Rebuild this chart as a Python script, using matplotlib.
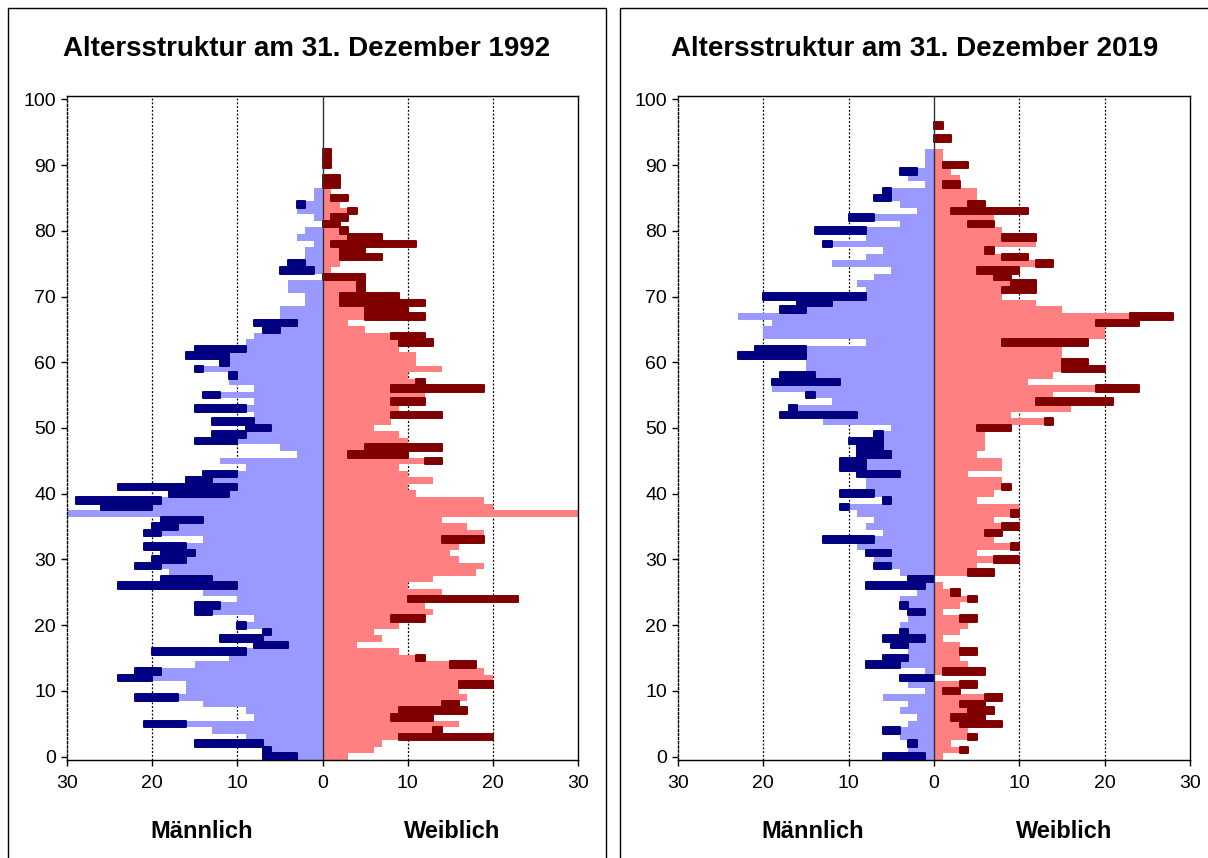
import numpy as np
import matplotlib
matplotlib.use("Agg")
import matplotlib.pyplot as plt
from matplotlib.patches import Rectangle

plt.rcParams['font.family'] = ['Liberation Sans', 'DejaVu Sans']

# ---------------- data (persons per year of age) ----------------
male_1992 = [7, 7, 15, 9, 13, 21, 8, 9, 14, 22,
             16, 16, 24, 22, 15, 11, 20, 8, 12, 7,
             10, 8, 15, 15, 10, 14, 24, 19, 18, 22,
             20, 19, 21, 14, 21, 20, 19, 30, 26, 29,
             18, 24, 16, 14, 9, 12, 3, 5, 15, 13,
             9, 13, 8, 15, 8, 14, 8, 11, 11, 15,
             12, 16, 15, 9, 8, 7, 8, 5, 5, 2,
             2, 4, 4, 0, 5, 4, 2, 2, 1, 3,
             2, 0, 1, 3, 3, 1, 1, 0, 0, 0,
             0, 0, 0]
female_1992 = [3, 6, 7, 20, 14, 16, 13, 17, 16, 17,
               16, 20, 20, 19, 18, 12, 9, 4, 7, 6,
               9, 12, 13, 12, 23, 14, 10, 13, 18, 19,
               16, 15, 16, 19, 19, 17, 14, 30, 20, 19,
               11, 10, 13, 10, 9, 14, 10, 14, 10, 9,
               6, 8, 14, 9, 12, 12, 19, 12, 10, 14,
               11, 11, 9, 13, 12, 5, 3, 12, 10, 12,
               9, 5, 5, 5, 1, 2, 7, 5, 11, 7,
               3, 2, 3, 4, 2, 3, 1, 2, 2, 0,
               1, 1, 1]
male_2019 = [6, 3, 3, 4, 6, 3, 2, 4, 3, 6,
             1, 3, 4, 1, 8, 6, 3, 5, 6, 4,
             4, 3, 3, 4, 4, 2, 8, 3, 4, 7,
             7, 8, 9, 13, 6, 8, 7, 9, 11, 6,
             11, 8, 8, 9, 11, 11, 9, 9, 10, 7,
             5, 13, 18, 17, 12, 15, 19, 19, 18, 15,
             15, 23, 21, 8, 20, 20, 19, 23, 18, 16,
             20, 8, 9, 7, 5, 12, 8, 6, 13, 8,
             14, 4, 10, 2, 4, 7, 6, 1, 3, 4,
             1, 1, 1, 0, 0, 0, 0]
female_2019 = [1, 4, 2, 5, 4, 8, 6, 7, 6, 8,
               3, 5, 0, 6, 4, 3, 5, 3, 1, 3,
               4, 5, 1, 3, 5, 3, 1, 0, 7, 5,
               10, 5, 10, 7, 8, 10, 7, 10, 10, 5,
               7, 9, 8, 4, 8, 8, 5, 6, 6, 6,
               9, 14, 9, 16, 21, 14, 24, 11, 14, 20,
               18, 15, 15, 18, 20, 20, 24, 28, 15, 12,
               8, 12, 12, 9, 10, 14, 11, 7, 12, 12,
               8, 7, 7, 11, 6, 5, 5, 3, 3, 2,
               4, 1, 1, 0, 2, 0, 1]

titles = ["Altersstruktur am 31. Dezember 1992", "Altersstruktur am 31. Dezember 2019"]
side_labels = ["Männlich", "Weiblich"]
x_ticks = [-30, -20, -10, 0, 10, 20, 30]
x_ticklabels = ["30", "20", "10", "0", "10", "20", "30"]
y_ticks = list(range(0, 101, 10))

LIGHT_M = "#9999FF"
LIGHT_F = "#FF8080"
DARK_M = "#000080"
DARK_F = "#800000"

W, H = 1208, 858
fig = plt.figure(figsize=(W / 100, H / 100), dpi=100)


def fx(px):
    return px / W


def fy(py):
    return 1 - py / H


def panel(ax, male, female):
    m = np.asarray(male, dtype=float)
    f = np.asarray(female, dtype=float)
    age = np.arange(len(m))
    lo = np.minimum(m, f)
    ax.barh(age, -m, height=1.0, color=LIGHT_M, linewidth=0, zorder=2)
    ax.barh(age, f, height=1.0, color=LIGHT_F, linewidth=0, zorder=2)
    mex = m > f
    fex = f > m
    ax.barh(age[mex], -(m - lo)[mex], left=-lo[mex], height=1.0, color=DARK_M,
            edgecolor=DARK_M, linewidth=1.4, joinstyle='round', zorder=3)
    ax.barh(age[fex], (f - lo)[fex], left=lo[fex], height=1.0, color=DARK_F,
            edgecolor=DARK_F, linewidth=1.4, joinstyle='round', zorder=3)
    ax.set_xlim(-30, 30)
    ax.set_ylim(-0.5, 100.5)
    ax.set_xticks(x_ticks)
    ax.set_xticklabels(x_ticklabels)
    ax.set_yticks(y_ticks)
    ax.tick_params(axis='both', direction='out', length=4, width=1, labelsize=14,
                   colors='black')
    ax.tick_params(axis='x', pad=7)
    ax.tick_params(axis='y', pad=4)
    for gx in (-20, -10, 10, 20):
        ax.axvline(gx, color='black', linestyle=(0, (1.5, 1.5)), linewidth=0.9, zorder=1)
    ax.axvline(0, color='#333333', linewidth=1.0, zorder=4)
    ax.spines['left'].set_linestyle((0, (1.5, 1.5)))
    for s in ax.spines.values():
        s.set_linewidth(1.0)
        s.set_color('black')


axes_px = [(67, 578), (678, 1190)]
panels_px = [(8, 606), (620, 1210)]
data = [(male_1992, female_1992), (male_2019, female_2019)]

for i in range(2):
    x0, x1 = axes_px[i]
    ax = fig.add_axes([fx(x0), fy(760), fx(x1 - x0), fy(96) - fy(760)])
    panel(ax, *data[i])
    p0, p1 = panels_px[i]
    fig.patches.append(Rectangle((fx(p0), fy(870)), fx(p1 - p0), fy(8) - fy(870),
                                 transform=fig.transFigure, fill=False,
                                 edgecolor='black', linewidth=1.0))
    cx = (p0 + p1) / 2
    fig.text(fx(cx), fy(49), titles[i], ha='center', va='center',
             fontsize=20, fontweight='bold')
    axc = (x0 + x1) / 2
    fig.text(fx(axc - 121), fy(831), side_labels[0], ha='center', va='center',
             fontsize=17, fontweight='bold')
    fig.text(fx(axc + 130), fy(831), side_labels[1], ha='center', va='center',
             fontsize=17, fontweight='bold')

fig.savefig("out.png", dpi=100)
